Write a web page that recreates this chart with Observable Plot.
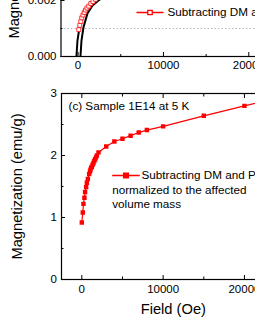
<!DOCTYPE html>
<html><head><meta charset="utf-8">
<script src="https://cdn.jsdelivr.net/npm/d3@7"></script>
<script src="https://cdn.jsdelivr.net/npm/@observablehq/plot@0.6"></script>
<style>
html,body{margin:0;padding:0;overflow:hidden;background:#fff;}
#wrap{position:relative;width:255px;height:330px;overflow:hidden;background:#fff;}
#top,#bot{position:absolute;left:0;width:300px;}
#top{top:-136px;}
#bot{top:80px;}
#wrap svg{max-width:none !important;}
</style></head><body><div id="wrap"><div id="top"></div><div id="bot"></div></div>
<script>
// ---------- Panel (b) (top, partly visible) ----------
const topBranch1Field = [-250, -190, -70, 165, 630, 1220, 1800, 2390];
const topBranch1M     = [-0.00036, 0, 0.00057, 0.00104, 0.00154, 0.00182, 0.0020, 0.00218];
const topBranch2Field = [220, 280, 400, 630, 1100, 1690, 2390, 3210];
const topBranch2M     = [-0.00036, 0, 0.00057, 0.00104, 0.00154, 0.00182, 0.0020, 0.00218];
const topRedField = [80, 200, 320, 430, 570, 720, 870, 1040, 1250, 1490, 1750, 2040];
const topRedM     = [0.00096, 0.00111, 0.00125, 0.00138, 0.00148, 0.00157, 0.00166, 0.00173, 0.0018, 0.00189, 0.00196, 0.00204];
const topGuide = [0.001];
const topXMajor = [0, 10000, 20000];
const topXMinor = [5000, 15000];
const topYMajor = [0, 0.002];
const topYMinor = [0.001];
const topLegend = "Subtracting DM and PM";

// ---------- Panel (c) (bottom) ----------
const botField = [0, 120, 200, 320, 400, 530, 620, 740, 900, 1000, 1060, 1150, 1230, 1330, 1430, 1530, 1640, 1740, 1850, 2050, 3000, 4000, 5000, 6000, 7000, 8000, 10000, 15000, 20000, 25000];
const botM     = [0.92, 1.08, 1.22, 1.32, 1.41, 1.49, 1.56, 1.62, 1.70, 1.74, 1.77, 1.80, 1.82, 1.85, 1.88, 1.91, 1.94, 1.97, 2.0, 2.05, 2.145, 2.225, 2.27, 2.32, 2.37, 2.41, 2.47, 2.64, 2.80, 2.96];
const botXMajor = [0, 10000, 20000];
const botXMinor = [5000, 15000];
const botYMajor = [0, 1, 2, 3];
const botYMinor = [0.5, 1.5, 2.5];
const botAnnotation = "(c) Sample 1E14 at 5 K";
const botLegend = ["Subtracting DM and PM", "normalized to the affected", "volume mass"];
const xLabel = "Field (Oe)";
const yLabel = "Magnetization (emu/g)";

const font = "'Liberation Sans', Arial, Helvetica, sans-serif";
const zip = (xs, ys) => xs.map((x, i) => ({x, y: ys[i]}));

function swatch(h, s) {
  return {draw(ctx) {
    ctx.moveTo(-h, 0); ctx.lineTo(-s, 0);
    ctx.moveTo(s, 0); ctx.lineTo(h, 0);
    ctx.moveTo(-s, -s); ctx.lineTo(s, -s); ctx.lineTo(s, s); ctx.lineTo(-s, s); ctx.closePath();
  }};
}
const baseStyle = {fontFamily: font, fontSize: "11.5px", background: "transparent", color: "black", overflow: "visible", maxWidth: "none"};

// top plot
const topPlot = Plot.plot({
  width: 300, height: 216,
  marginLeft: 60.5, marginRight: 9, marginTop: 10, marginBottom: 24,
  x: {domain: [-2000, 25000]},
  y: {domain: [0, 0.0065]},
  style: baseStyle,
  marks: [
    Plot.ruleY(topGuide, {stroke: "#b4b4b4", strokeDasharray: "1.5,2", strokeWidth: 1}),
    Plot.line(zip(topBranch1Field, topBranch1M), {x: "x", y: "y", stroke: "black", strokeWidth: 2, clip: true}),
    Plot.line(zip(topBranch2Field, topBranch2M), {x: "x", y: "y", stroke: "black", strokeWidth: 2, clip: true}),
    Plot.line(zip(topRedField, topRedM), {x: "x", y: "y", stroke: "red", strokeWidth: 1, clip: true}),
    Plot.dot(zip(topRedField, topRedM), {x: "x", y: "y", symbol: "square", r: 2.2, stroke: "#ff2020", strokeWidth: 0.9, fill: "white", clip: true}),
    Plot.frame({stroke: "black", strokeWidth: 1.2}),
    Plot.axisX(topXMajor, {anchor: "bottom", tickSize: -4, tickPadding: 8, tickFormat: d => String(d), label: null}),
    Plot.axisX(topXMinor, {anchor: "bottom", tickSize: -2, tickFormat: () => "", label: null}),
    Plot.axisY(topYMajor, {anchor: "left", tickSize: -4, tickPadding: 8.5, tickFormat: d3.format(".3f"), label: null}),
    Plot.axisY(topYMinor, {anchor: "left", tickSize: -2, tickFormat: () => "", label: null}),
    Plot.text([yLabel], {frameAnchor: "left", dx: -46.5, rotate: -90, fontSize: 14.7, lineAnchor: "middle", textAnchor: "middle", fill: "black"}),
    Plot.dot([0], {frameAnchor: "top-left", dx: 89, dy: 138, symbol: swatch(13.5, 2.2), stroke: "red", strokeWidth: 1.3, fill: "white"}),
    Plot.text([topLegend], {frameAnchor: "top-left", dx: 106.5, dy: 138, textAnchor: "start", lineAnchor: "middle", fontSize: 11.7, fill: "black"})
  ]
});
document.getElementById("top").appendChild(topPlot);

// bottom plot
const botPlot = Plot.plot({
  width: 300, height: 250,
  marginLeft: 61, marginRight: 15.4, marginTop: 13, marginBottom: 51,
  x: {domain: [-2500, 25000]},
  y: {domain: [0, 3]},
  style: baseStyle,
  marks: [
    Plot.line(zip(botField, botM), {x: "x", y: "y", stroke: "red", strokeWidth: 1.2, clip: true}),
    Plot.dot(zip(botField, botM), {x: "x", y: "y", symbol: "square", r: 2.5, fill: "red", stroke: "none", clip: true}),
    Plot.frame({stroke: "black", strokeWidth: 1.2}),
    Plot.axisX(botXMajor, {anchor: "bottom", tickSize: -4, tickPadding: 9, tickFormat: d => String(d), label: null}),
    Plot.axisX(botXMinor, {anchor: "bottom", tickSize: -2.5, tickFormat: () => "", label: null}),
    Plot.axisX(botXMajor, {anchor: "top", tickSize: -4, tickFormat: () => "", label: null}),
    Plot.axisX(botXMinor, {anchor: "top", tickSize: -2.5, tickFormat: () => "", label: null}),
    Plot.axisY(botYMajor, {anchor: "left", tickSize: -4, tickPadding: 8.5, tickFormat: d => String(d), label: null}),
    Plot.axisY(botYMinor, {anchor: "left", tickSize: -2.5, tickFormat: () => "", label: null}),
    Plot.text([yLabel], {frameAnchor: "left", dx: -44, rotate: -90, fontSize: 14.7, lineAnchor: "middle", textAnchor: "middle", fill: "black"}),
    Plot.text([xLabel], {frameAnchor: "bottom", dy: 30, fontSize: 14.7, lineAnchor: "middle", textAnchor: "middle", fill: "black"}),
    Plot.text([botAnnotation], {frameAnchor: "top-left", dx: 7, dy: 13, textAnchor: "start", lineAnchor: "middle", fontSize: 11.7, fill: "black"}),
    Plot.dot([0], {frameAnchor: "top-left", dx: 64.5, dy: 82, symbol: swatch(13.8, 2.4), stroke: "red", strokeWidth: 1.3, fill: "red"}),
    Plot.text([botLegend[0]], {frameAnchor: "top-left", dx: 80, dy: 82, textAnchor: "start", lineAnchor: "middle", fontSize: 11.7, fill: "black"}),
    Plot.text([botLegend[1]], {frameAnchor: "top-left", dx: 50.7, dy: 97, textAnchor: "start", lineAnchor: "middle", fontSize: 11.7, fill: "black"}),
    Plot.text([botLegend[2]], {frameAnchor: "top-left", dx: 50.7, dy: 110.5, textAnchor: "start", lineAnchor: "middle", fontSize: 11.7, fill: "black"})
  ]
});
document.getElementById("bot").appendChild(botPlot);
</script>
</body></html>
